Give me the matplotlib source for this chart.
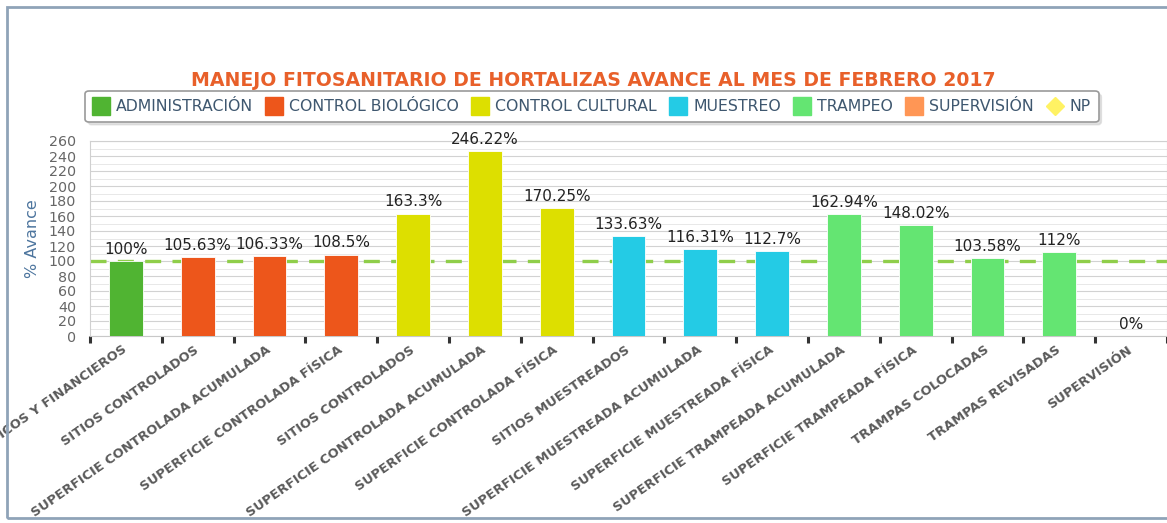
import matplotlib
matplotlib.use("Agg")
import matplotlib.pyplot as plt
from matplotlib.lines import Line2D
from matplotlib.patches import Rectangle
import numpy as np

plt.rcParams['font.family'] = ['DejaVu Sans']

# ---------------- data ----------------
categories = [
    "INFORMES FÍSICOS Y FINANCIEROS",
    "SITIOS CONTROLADOS",
    "SUPERFICIE CONTROLADA ACUMULADA",
    "SUPERFICIE CONTROLADA FÍSICA",
    "SITIOS CONTROLADOS",
    "SUPERFICIE CONTROLADA ACUMULADA",
    "SUPERFICIE CONTROLADA FÍSICA",
    "SITIOS MUESTREADOS",
    "SUPERFICIE MUESTREADA ACUMULADA",
    "SUPERFICIE MUESTREADA FÍSICA",
    "SUPERFICIE TRAMPEADA ACUMULADA",
    "SUPERFICIE TRAMPEADA FÍSICA",
    "TRAMPAS COLOCADAS",
    "TRAMPAS REVISADAS",
    "SUPERVISIÓN",
]
values = [100, 105.63, 106.33, 108.5, 163.3, 246.22, 170.25, 133.63,
          116.31, 112.7, 162.94, 148.02, 103.58, 112, 0]
value_labels = ["100%", "105.63%", "106.33%", "108.5%", "163.3%", "246.22%",
                "170.25%", "133.63%", "116.31%", "112.7%", "162.94%",
                "148.02%", "103.58%", "112%", "0%"]
groups = ["ADMINISTRACIÓN", "CONTROL BIOLÓGICO", "CONTROL BIOLÓGICO",
          "CONTROL BIOLÓGICO", "CONTROL CULTURAL", "CONTROL CULTURAL",
          "CONTROL CULTURAL", "MUESTREO", "MUESTREO", "MUESTREO",
          "TRAMPEO", "TRAMPEO", "TRAMPEO", "TRAMPEO", "SUPERVISIÓN"]
legend_names = ["ADMINISTRACIÓN", "CONTROL BIOLÓGICO", "CONTROL CULTURAL",
                "MUESTREO", "TRAMPEO", "SUPERVISIÓN"]
legend_colors = ["#50B432", "#ED561B", "#DDDF00", "#24CBE5", "#64E572", "#FF9655"]
np_name = "NP"
np_color = "#FFF263"
target = 100
yticks = list(range(0, 261, 20))
title = "MANEJO FITOSANITARIO DE HORTALIZAS AVANCE AL MES DE FEBRERO 2017"

color_map = dict(zip(legend_names, legend_colors))

# ---------------- figure ----------------
W, H = 1167, 523
fig = plt.figure(figsize=(W / 100, H / 100), dpi=100)
fig.patch.set_facecolor("white")

# outer chart frame
fig.patches.append(Rectangle((7 / W, 5 / H), 1.2, (H - 12) / H,
                             transform=fig.transFigure, fill=False,
                             edgecolor="#8fa3b8", linewidth=2, zorder=0))

ax = fig.add_axes([90 / W, (H - 336) / H, 1077 / W, 195 / H])
x = np.arange(len(categories))
bar_colors = [color_map[g] for g in groups]
bars = ax.bar(x, values, width=0.47, color=bar_colors, edgecolor="white",
              linewidth=0.6, zorder=3)

ax.axhline(target, color="#8fce4a", linewidth=2.4, dashes=(4.8, 3.4), zorder=2)

ax.set_xlim(-0.5, len(categories) - 0.5)
ax.set_ylim(0, 260)
ax.set_yticks(yticks)
ax.set_yticks(np.arange(0, 261, 10), minor=True)
ax.grid(axis="y", which="major", color="#d2d2d2", linewidth=0.8, zorder=0)
ax.grid(axis="y", which="minor", color="#e8e8e8", linewidth=0.7, zorder=0)
ax.tick_params(axis="y", which="both", length=0, labelsize=10.3,
               labelcolor="#666666", pad=10)

# x: labels at centres, tick marks between categories
ax.set_xticks(x)
ax.set_xticklabels(categories, rotation=35, ha="right", va="center",
                   rotation_mode="anchor", fontsize=9.4, fontweight="bold",
                   color="#5a5a5a")
ax.tick_params(axis="x", which="major", length=0, pad=9)
ax.set_xticks(np.arange(-0.5, len(categories), 1.0), minor=True)
ax.tick_params(axis="x", which="minor", length=5, width=2.2, color="#333333",
               direction="out")

for s in ["top", "right", "left"]:
    ax.spines[s].set_color("#d0d0d0")
    ax.spines[s].set_linewidth(0.8)
ax.spines["bottom"].set_color("#c8c8c8")
ax.spines["bottom"].set_linewidth(0.8)

for b, lab in zip(bars, value_labels):
    ax.annotate(lab, (b.get_x() + b.get_width() / 2, b.get_height()),
                xytext=(0, 3), textcoords="offset points", ha="center",
                va="bottom", fontsize=11, color="#222222", zorder=5)

ax.set_ylabel("% Avance", fontsize=11.5, color="#4d759e")
ax.yaxis.set_label_coords(-50 / 1077, 0.5)

fig.text(593 / W, 1 - 80 / H, title, ha="center", va="center",
         fontsize=13.6, fontweight="bold", color="#E8602A")

handles = [Line2D([], [], marker="s", linestyle="none", markersize=13,
                  markerfacecolor=c, markeredgecolor=c)
           for c in legend_colors]
handles.append(Line2D([], [], marker="D", linestyle="none", markersize=9,
                      markerfacecolor=np_color, markeredgecolor=np_color))
leg = fig.legend(handles, legend_names + [np_name], ncol=7,
                 loc="center", bbox_to_anchor=(592 / W, 1 - 106.5 / H),
                 fontsize=11.3, frameon=True, fancybox=True,
                 handlelength=1.0, handletextpad=0.45, columnspacing=0.85,
                 borderpad=0.5, labelcolor="#3e576f",
                 shadow={"color": "#c8c8c8"})
leg.get_frame().set_edgecolor("#9a9a9a")
leg.get_frame().set_linewidth(1.2)

fig.savefig("out.png", dpi=100, facecolor="white")
